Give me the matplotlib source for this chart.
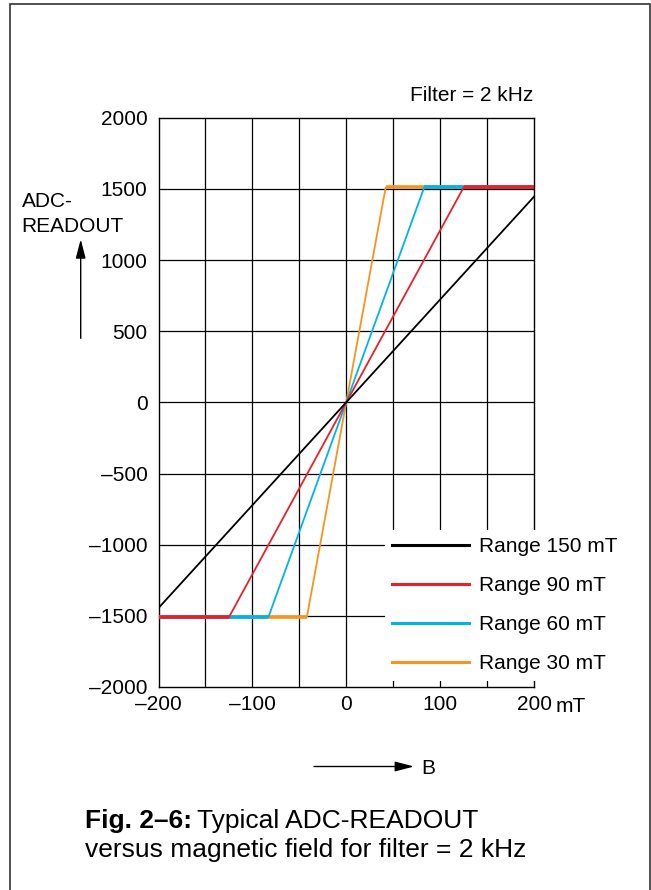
import matplotlib
matplotlib.use("Agg")
import matplotlib.pyplot as plt
from matplotlib.lines import Line2D
from matplotlib.patches import Rectangle, FancyArrowPatch

plt.rcParams["font.family"] = ["Liberation Sans", "DejaVu Sans"]

# data (B in mT, ADC readout)
b_150 = [-200, 200]
adc_150 = [-1445, 1445]
b_90 = [-200, -125, 125, 200]
adc_90 = [-1510, -1510, 1510, 1510]
b_60 = [-200, -83, 83, 200]
adc_60 = [-1510, -1510, 1510, 1510]
b_30 = [-200, -42, 42, 200]
adc_30 = [-1510, -1510, 1510, 1510]

range_labels = ["Range 150 mT", "Range 90 mT", "Range 60 mT", "Range 30 mT"]
range_colors = ["#000000", "#e8202a", "#00b4e8", "#f7941d"]

x_ticks = [-200, -100, 0, 100, 200]
x_ticklabels = ["\u2013200", "\u2013100", "0", "100", "200"]
y_ticks = [-2000, -1500, -1000, -500, 0, 500, 1000, 1500, 2000]
y_ticklabels = ["\u20132000", "\u20131500", "\u20131000", "\u2013500", "0",
                "500", "1000", "1500", "2000"]
x_grid = [-150, -100, -50, 0, 50, 100, 150]
y_grid = [-1500, -1000, -500, 0, 500, 1000, 1500]

W, H = 651, 890


def fx(px):
    return px / W


def fy(py):
    return 1 - py / H


fig = plt.figure(figsize=(W / 100, H / 100), dpi=100)
fig.patch.set_facecolor("white")

# outer frame of the figure box (open at the bottom)
fig.patches.append(Rectangle((fx(10), fy(905)), fx(640), 901 / H,
                             transform=fig.transFigure, fill=False,
                             edgecolor="#333333", linewidth=1.2))

ax_l, ax_r, ax_t, ax_b = 158.5, 534, 117.7, 687
ax = fig.add_axes([fx(ax_l), fy(ax_b), (ax_r - ax_l) / W, (ax_b - ax_t) / H])
ax.set_xlim(-200, 200)
ax.set_ylim(-2000, 2000)

for g in x_grid:
    ax.axvline(g, color="black", lw=0.9, zorder=1)
for g in y_grid:
    ax.axhline(g, color="black", lw=0.9, zorder=1)

# draw 30 mT first so that the wider ranges sit on top of the flat parts
curves = [(b_30, adc_30), (b_60, adc_60), (b_90, adc_90)]
colors = [range_colors[3], range_colors[2], range_colors[1]]
for (bx, by), col in zip(curves, colors):
    ax.plot(bx, by, color=col, lw=1.3, zorder=3, solid_capstyle="butt")
    ax.plot(bx[:2], by[:2], color=col, lw=2.6, zorder=3, solid_capstyle="butt")
    ax.plot(bx[2:], by[2:], color=col, lw=2.6, zorder=3, solid_capstyle="butt")
ax.plot(b_150, adc_150, color=range_colors[0], lw=1.3, zorder=4)

for s in ax.spines.values():
    s.set_linewidth(1.0)
ax.set_xticks(x_ticks)
ax.set_xticklabels(x_ticklabels)
ax.set_yticks(y_ticks)
ax.set_yticklabels(y_ticklabels)
ax.tick_params(length=0, labelsize=15, pad=6)
ax.tick_params(axis="y", pad=8)

handles = [Line2D([], [], color=c, lw=2.2) for c in range_colors]
leg = ax.legend(handles, range_labels, loc="upper left",
                bbox_to_anchor=((385 - ax_l) / (ax_r - ax_l),
                                1 - (530 - ax_t) / (ax_b - ax_t)),
                borderaxespad=0, borderpad=0.35, frameon=True, fancybox=False,
                facecolor="white", edgecolor="none", framealpha=1,
                fontsize=15, handlelength=3.7, handletextpad=0.45,
                labelspacing=0.96)
leg.set_zorder(10)

fig.text(fx(556), fy(712.5), "mT", fontsize=15, ha="left", va="baseline")
fig.text(fx(533.5), fy(100.7), "Filter = 2 kHz", fontsize=15, ha="right",
         va="baseline")
fig.text(fx(21.5), fy(207.3), "ADC-", fontsize=15, ha="left", va="baseline")
fig.text(fx(21.5), fy(231.7), "READOUT", fontsize=15, ha="left", va="baseline")

arrow = dict(arrowstyle="-|>,head_length=1.15,head_width=0.3", color="black",
             lw=1.0, shrinkA=0, shrinkB=0, mutation_scale=10,
             transform=fig.transFigure)
fig.add_artist(FancyArrowPatch((fx(80.7), fy(338.3)), (fx(80.7), fy(239.3)),
                               **arrow))
fig.add_artist(FancyArrowPatch((fx(314), fy(766.5)), (fx(414), fy(766.5)),
                               **arrow))
fig.text(fx(421), fy(774.5), "B", fontsize=15, ha="left", va="baseline")

t1 = fig.text(fx(85), fy(828.3), "Fig. 2\u20136:", fontsize=19,
              fontweight="bold", ha="left", va="baseline")
fig.canvas.draw()
bb = t1.get_window_extent()
fig.text(bb.x1 / W + fx(5), fy(828.3), "Typical ADC-READOUT", fontsize=19,
         ha="left", va="baseline")
fig.text(fx(85), fy(856.7), "versus magnetic field for filter = 2 kHz",
         fontsize=19, ha="left", va="baseline")

fig.savefig("out.png", dpi=100)
